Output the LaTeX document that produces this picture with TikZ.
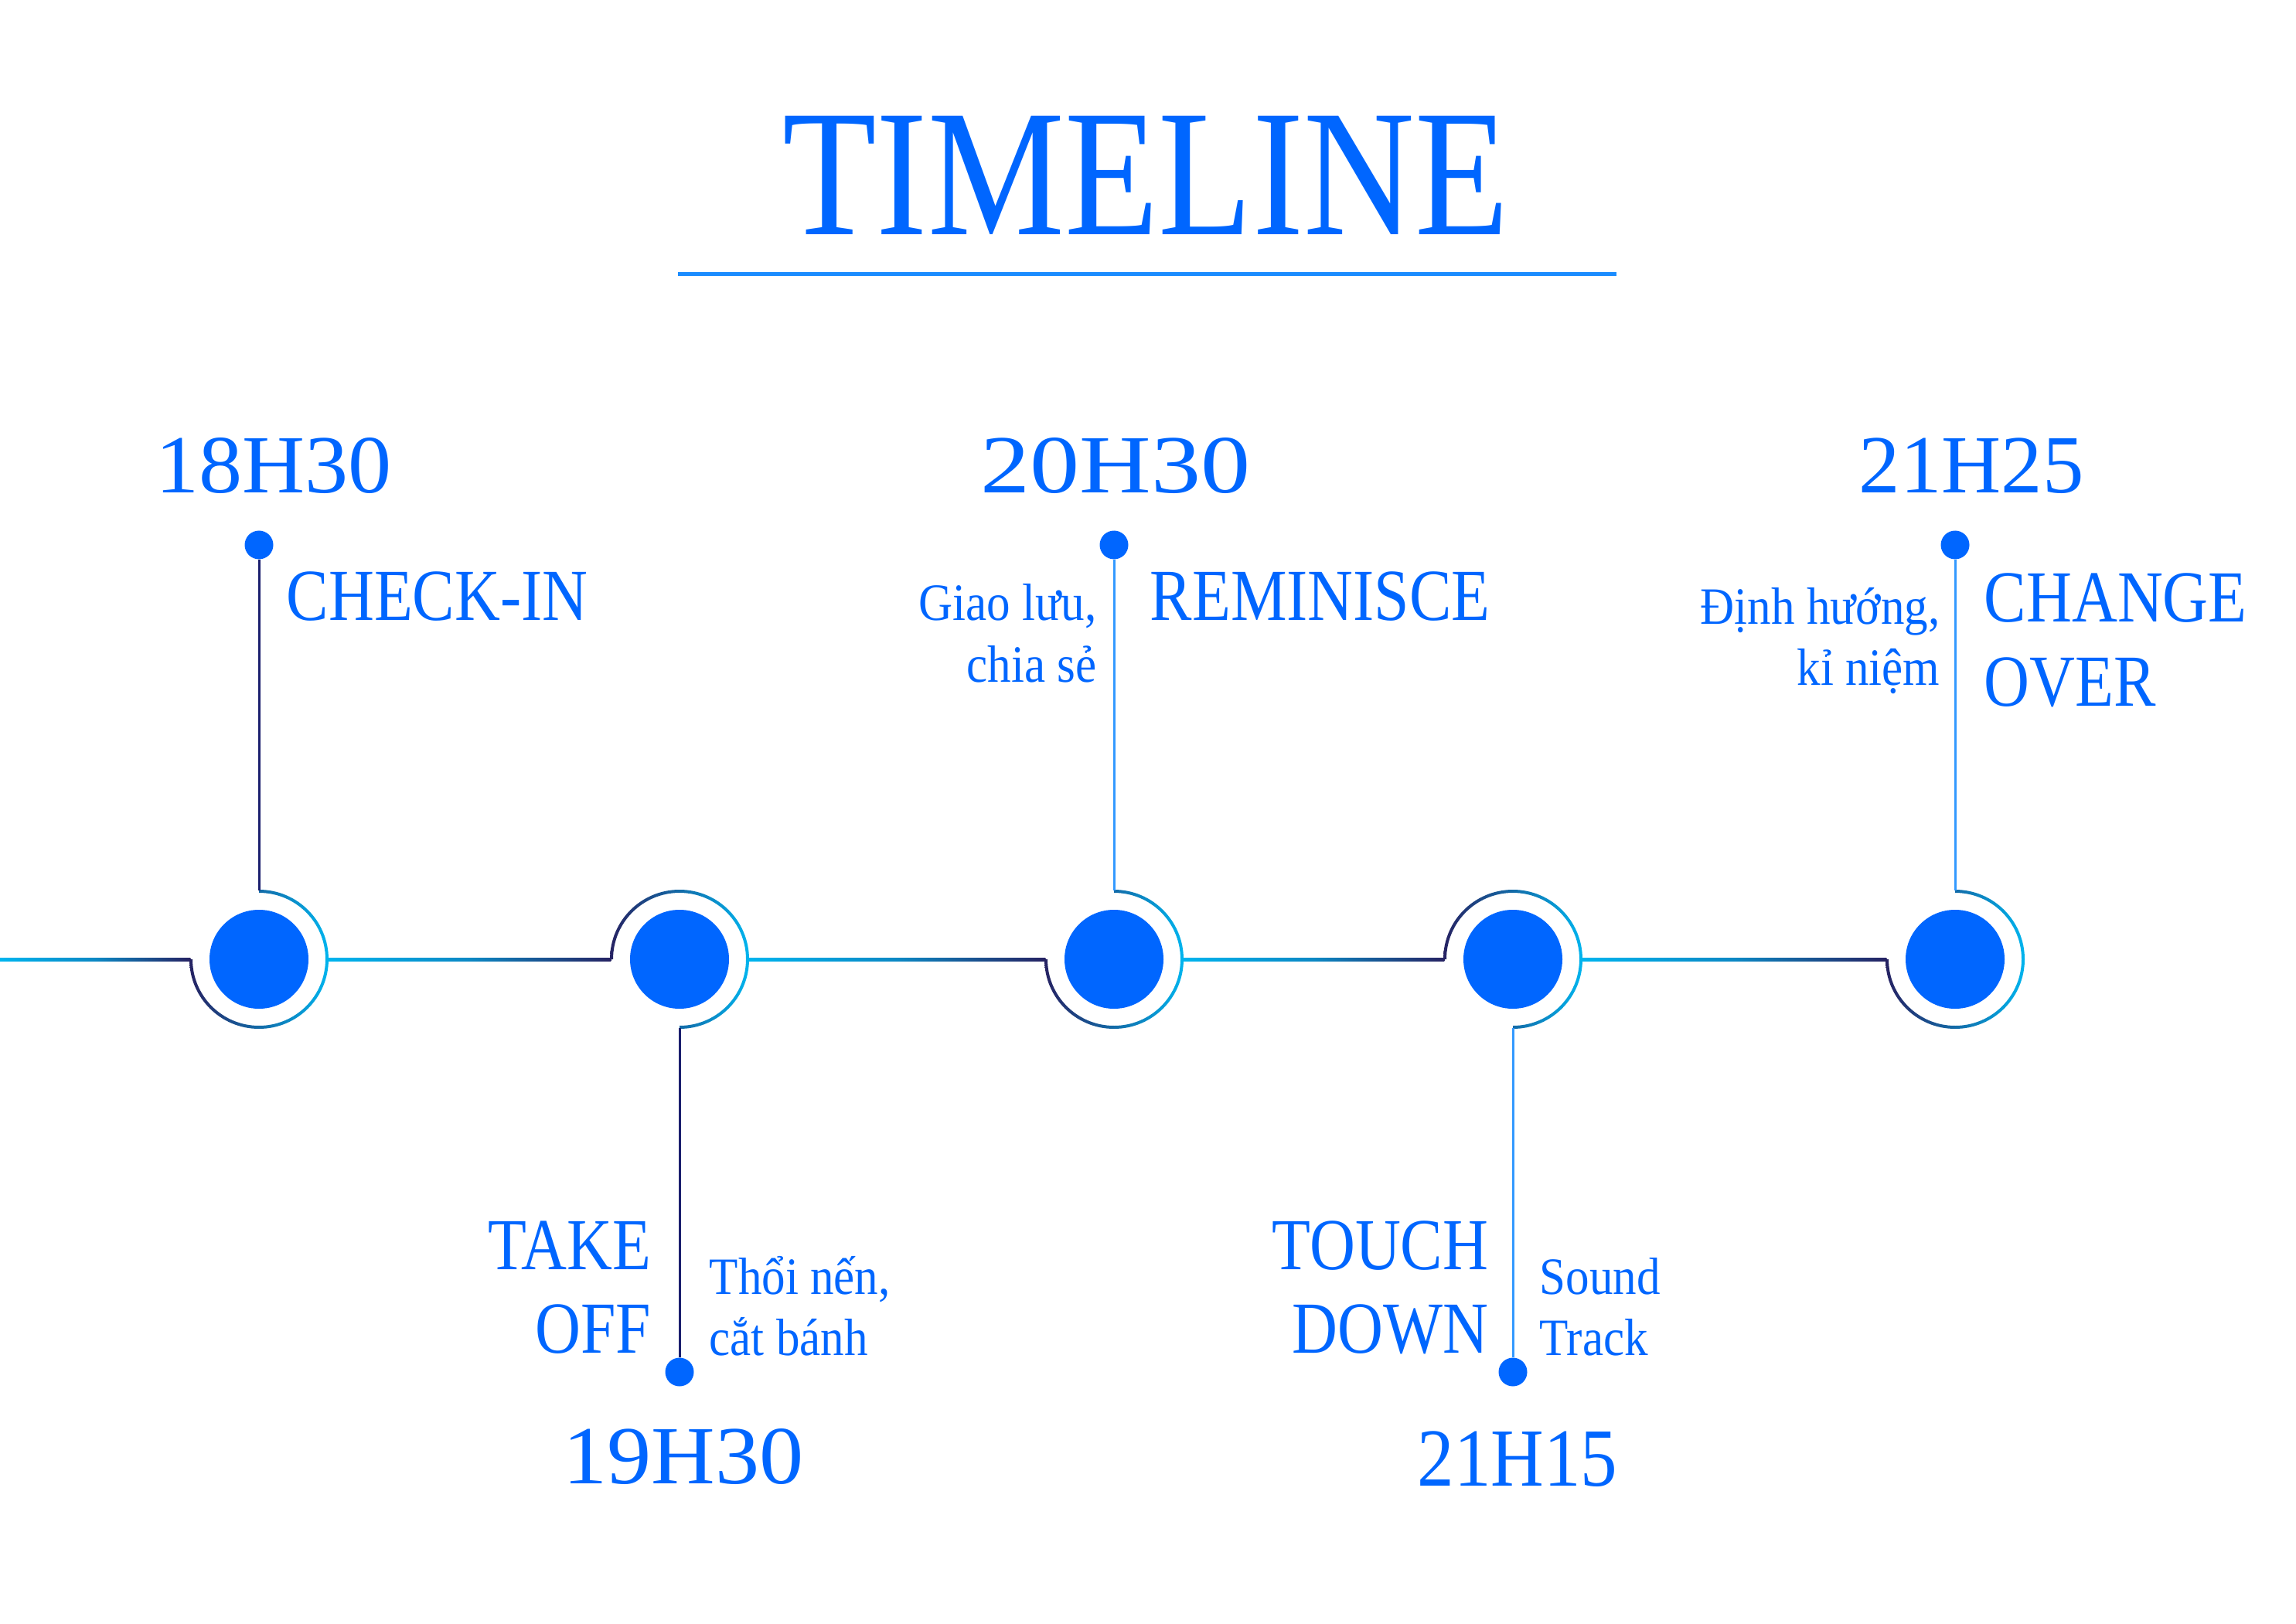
\documentclass[tikz,border=0pt]{standalone}
\usepackage{fontspec}
\usepackage{graphicx}
\setmainfont{Liberation Serif}
\newfontfamily\titlefont[FakeStretch=0.85]{Liberation Serif}
\newfontfamily\capfont[FakeStretch=0.86]{Liberation Serif}
\newfontfamily\notefont[FakeStretch=0.9]{Liberation Serif}
\newfontfamily\timefont{Liberation Serif}
\usetikzlibrary{calc}
\definecolor{mainblue}{HTML}{0066FF}
\definecolor{lcyan}{HTML}{00B4EE}
\definecolor{navy}{HTML}{262262}
\definecolor{vdark}{HTML}{1B1F6E}
\definecolor{vlight}{HTML}{3399FF}
\definecolor{uline}{HTML}{1A8CFF}
\newcommand\RLines[2]{\vtop{\halign{\hfil##\cr#1\cr#2\cr}}}
\newcommand\LLines[2]{\vtop{\halign{##\hfil\cr#1\cr#2\cr}}}
\begin{document}
\begin{tikzpicture}[x=1cm,y=1cm,
 hub/.style={circle, fill=mainblue, minimum size=1.28cm, inner sep=0},
 ringpos/.style={circle, minimum size=1.76cm, inner sep=0},
 pin/.style={circle, fill=mainblue, minimum size=0.37cm, inner sep=0},
 vdarkline/.style={draw=vdark, line width=0.03cm},
 vlightline/.style={draw=vlight, line width=0.03cm},
 hseg/.style={left color=lcyan, right color=navy, middle color=lcyan!70!navy},
 ringshade/.style={even odd rule, left color=navy, right color=lcyan},
 timelbl/.style={text=mainblue, inner sep=0, anchor=base, font=\timefont\fontsize{30.4}{34}\selectfont},
 caplbl/.style={text=mainblue, inner sep=0, font=\capfont\fontsize{27}{30.8}\selectfont},
 notelbl/.style={text=mainblue, inner sep=0, font=\notefont\fontsize{19.3}{22.5}\selectfont},
 titlelbl/.style={text=mainblue, inner sep=0, anchor=base, font=\titlefont\fontsize{66.6}{70}\selectfont},
]
\useasboundingbox (0,0) rectangle (29.7,21);

% title
\node[titlelbl] (title) at (14.82,17.96) {TIMELINE};
\coordinate (ul1) at (8.77,17.45);
\coordinate (ul2) at (20.91,17.45);
\draw[uline, line width=0.05cm] (ul1) -- (ul2);

% hubs and ring positions
\foreach \i/\x in {1/3.35, 2/8.79, 3/14.41, 4/19.57, 5/25.29} {
  \node[hub] (h\i) at (\x,8.59) {};
  \node[ringpos] (r\i) at (\x,8.59) {};
}

% rings open at the top-left (connector above)
\foreach \i in {1,3,5} {
  \begin{scope}
    \clip (r\i.center) -- ++(-1,0) -- ++(0,-1) -- ++(2,0) -- ++(0,2) -- ++(-1,0) -- cycle;
    \shade[ringshade] (r\i.center) circle (0.90) (r\i.center) circle (0.86);
  \end{scope}
}
% rings open at the bottom-left (connector below)
\foreach \i in {2,4} {
  \begin{scope}
    \clip (r\i.center) -- ++(-1,0) -- ++(0,1) -- ++(2,0) -- ++(0,-2) -- ++(-1,0) -- cycle;
    \shade[ringshade] (r\i.center) circle (0.90) (r\i.center) circle (0.86);
  \end{scope}
}

% horizontal segments
\coordinate (start) at (0,8.59);
\shade[hseg] ($(start)+(0,-0.02)$) rectangle ($(r1.west)+(0,0.02)$);
\shade[hseg] ($(r1.east)+(0,-0.02)$) rectangle ($(r2.west)+(0,0.02)$);
\shade[hseg] ($(r2.east)+(0,-0.02)$) rectangle ($(r3.west)+(0,0.02)$);
\shade[hseg] ($(r3.east)+(0,-0.02)$) rectangle ($(r4.west)+(0,0.02)$);
\shade[hseg] ($(r4.east)+(0,-0.02)$) rectangle ($(r5.west)+(0,0.02)$);

% pins
\node[pin] (d1) at (3.35,13.95) {};
\node[pin] (d2) at (8.79,3.25) {};
\node[pin] (d3) at (14.41,13.95) {};
\node[pin] (d4) at (19.57,3.25) {};
\node[pin] (d5) at (25.29,13.95) {};

\draw[vdarkline] (d1) -- (r1.north);
\draw[vdarkline] (d2) -- (r2.south);
\draw[vlightline] (d3) -- (r3.north);
\draw[vlightline] (d4) -- (r4.south);
\draw[vlightline] (d5) -- (r5.north);

% times
\node[timelbl] (t1) at (3.54,14.62) {\scalebox{1.05}[1]{18H30}};
\node[timelbl] (t2) at (8.84,1.81) {\scalebox{1.07}[1]{19H30}};
\node[timelbl] (t3) at (14.43,14.62) {\scalebox{1.2}[1]{20H30}};
\node[timelbl] (t4) at (19.63,1.78) {\scalebox{0.89}[1]{21H15}};
\node[timelbl] (t5) at (25.50,14.62) {21H25};

% titles of events
\node[caplbl, anchor=base west] (e1) at (3.70,12.97) {CHECK-IN};
\node[caplbl, anchor=base east] (e2) at (8.43,4.58) {\RLines{TAKE}{OFF}};
\node[caplbl, anchor=base west] (e3) at (14.87,12.97) {REMINISCE};
\node[caplbl, anchor=base east] (e4) at (19.26,4.58) {\RLines{TOUCH}{DOWN}};
\node[caplbl, anchor=base west] (e5) at (25.66,12.95) {\LLines{CHANGE}{OVER}};

% notes
\node[notelbl, anchor=base west] (n2) at (9.17,4.26) {\LLines{Thổi nến,}{cắt bánh}};
\node[notelbl, anchor=base east] (n3) at (14.19,12.97) {\RLines{Giao lưu,}{chia sẻ}};
\node[notelbl, anchor=base west] (n4) at (19.91,4.26) {\LLines{Sound}{Track}};
\node[notelbl, anchor=base east] (n5) at (25.10,12.93) {\RLines{Định hướng,}{kỉ niệm}};
\end{tikzpicture}
\end{document}
